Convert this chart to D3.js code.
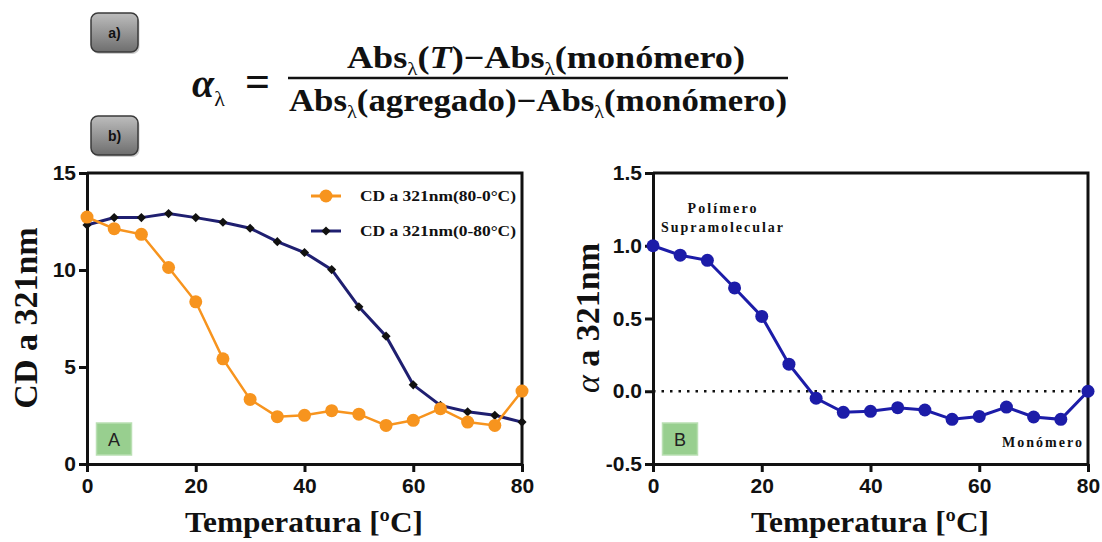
<!doctype html>
<html>
<head>
<meta charset="UTF-8">
<title>CD a 321nm</title>
<script src="https://cdn.jsdelivr.net/npm/d3@7"></script>
<style>
  body { margin: 0; background: #fff; }
  .axis .tick text { font-family: "Liberation Sans", Arial, sans-serif; font-weight: bold; font-size: 21px; fill: #111; }
  .axis path, .axis line { stroke: #111; stroke-width: 3; }
  .serif { font-family: "Liberation Serif", "Times New Roman", serif; font-weight: bold; fill: #111; }
</style>
</head>
<body>
<svg id="fig" width="1102" height="542"></svg>
<script>
// temperatures (°C)
const temps = [0, 5, 10, 15, 20, 25, 30, 35, 40, 45, 50, 55, 60, 65, 70, 75, 80];
// CD at 321 nm, cooling 80-0 °C (orange)
const cdCooling = [12.73, 12.13, 11.84, 10.13, 8.36, 5.42, 3.33, 2.44, 2.51, 2.75, 2.57, 1.99, 2.25, 2.85, 2.16, 1.99, 3.76];
// CD at 321 nm, heating 0-80 °C (navy)
const cdHeating = [12.32, 12.70, 12.70, 12.91, 12.70, 12.46, 12.15, 11.46, 10.90, 10.02, 8.10, 6.59, 4.08, 3.02, 2.69, 2.51, 2.16];
// aggregation fraction alpha at 321 nm
const alphaVals = [1.0, 0.935, 0.90, 0.71, 0.514, 0.186, -0.048, -0.145, -0.138, -0.113, -0.129, -0.193, -0.173, -0.109, -0.177, -0.193, 0.0];

const tempTicks = [0, 20, 40, 60, 80];
const cdTicks = [0, 5, 10, 15];
const alphaTicks = [-0.5, 0.0, 0.5, 1.0, 1.5];
const legendLabels = ["CD a 321nm(80-0°C)", "CD a 321nm(0-80°C)"];

const svg = d3.select("#fig");

// gradient for the a) b) buttons
const defs = svg.append("defs");
const grad = defs.append("linearGradient").attr("id", "btn").attr("x1", 0).attr("y1", 0).attr("x2", 0).attr("y2", 1);
grad.append("stop").attr("offset", "0%").attr("stop-color", "#bdbdbd");
grad.append("stop").attr("offset", "100%").attr("stop-color", "#6e6e6e");

function button(x, y, label) {
  svg.append("rect").attr("x", x + 1.5).attr("y", y + 2).attr("width", 47).attr("height", 39)
    .attr("rx", 7).attr("fill", "#cfcfcf");
  svg.append("rect").attr("x", x).attr("y", y).attr("width", 47).attr("height", 39)
    .attr("rx", 7).attr("fill", "url(#btn)").attr("stroke", "#3a3a3a").attr("stroke-width", 1.5);
  svg.append("text").attr("x", x + 23.5).attr("y", y + 24.5).attr("text-anchor", "middle")
    .style("font-family", "Liberation Sans, Arial, sans-serif").style("font-weight", "bold")
    .style("font-size", "14px").attr("fill", "#111").text(label);
}
button(91, 13, "a)");
button(91, 116, "b)");

// formula
const f = svg.append("g").attr("class", "serif");
const alphaT = f.append("text").attr("x", 192).attr("y", 97).style("font-size", "40px");
alphaT.append("tspan").style("font-style", "italic").text("α");
alphaT.append("tspan").attr("dy", 9).style("font-size", "22px").style("font-weight", "normal").text("λ");
f.append("text").attr("x", 245).attr("y", 96).style("font-size", "44px").text("=");

function fracLine(y, x, w, parts) {
  const t = f.append("text").attr("x", x).attr("y", y).style("font-size", "31px")
    .attr("textLength", w).attr("lengthAdjust", "spacingAndGlyphs");
  parts.forEach(p => {
    const s = t.append("tspan").text(p.t);
    if (p.sub) s.attr("dy", 7).style("font-size", "18px").style("font-weight", "normal");
    if (p.up) s.attr("dy", -7);
    if (p.it) s.style("font-style", "italic");
  });
}
fracLine(68, 347, 398, [
  {t: "Abs"}, {t: "λ", sub: true}, {t: "(", up: true}, {t: "T", it: true}, {t: ")−Abs"},
  {t: "λ", sub: true}, {t: "(monómero)", up: true}
]);
f.append("line").attr("x1", 288).attr("x2", 788).attr("y1", 78).attr("y2", 78)
  .attr("stroke", "#111").attr("stroke-width", 2.5);
fracLine(111, 289, 498, [
  {t: "Abs"}, {t: "λ", sub: true}, {t: "(agregado)−Abs", up: true},
  {t: "λ", sub: true}, {t: "(monómero)", up: true}
]);

// panel drawing
function panel(o) {
  const x = d3.scaleLinear().domain([0, 80]).range([o.left, o.left + 435]);
  const y = d3.scaleLinear().domain(o.yDomain).range([464, 173]);
  const g = svg.append("g");

  // frame top/right
  g.append("path").attr("d", `M${o.left},173H${o.left + 435}V464`)
    .attr("fill", "none").attr("stroke", "#111").attr("stroke-width", 3);

  g.append("g").attr("class", "axis").attr("transform", "translate(0,464)")
    .call(d3.axisBottom(x).tickValues(tempTicks).tickSize(8).tickSizeOuter(0).tickPadding(6));
  g.append("g").attr("class", "axis").attr("transform", `translate(${o.left},0)`)
    .call(d3.axisLeft(y).tickValues(o.yTicks).tickSize(8).tickSizeOuter(0).tickPadding(3)
      .tickFormat(o.fmt));

  // axis titles
  g.append("text").attr("class", "serif").attr("x", o.left + 217).attr("y", 532)
    .attr("text-anchor", "middle").style("font-size", "30px")
    .attr("textLength", 238).attr("lengthAdjust", "spacingAndGlyphs").text("Temperatura [ºC]");
  const yt = g.append("text").attr("class", "serif")
    .attr("transform", `translate(${o.titleX},318) rotate(-90)`)
    .attr("text-anchor", "middle").attr("dy", "0.35em").style("font-size", "34px");
  o.yTitle(yt);

  // panel label box
  g.append("rect").attr("x", o.left + 9.5).attr("y", 423).attr("width", 35).attr("height", 32)
    .attr("fill", "#98cf8f").attr("stroke", "#b9dfb2").attr("stroke-width", 1.5);
  g.append("text").attr("x", o.left + 27).attr("y", 446).attr("text-anchor", "middle")
    .style("font-family", "Liberation Sans, Arial, sans-serif").style("font-size", "18px")
    .attr("fill", "#222").text(o.label);

  return {g, x, y};
}

// panel A
const A = panel({
  left: 87, yDomain: [0, 15], yTicks: cdTicks, fmt: d3.format("d"), titleX: 25, label: "A",
  yTitle: t => t.text("CD a 321nm")
});
const lineA = vals => d3.line().x((d, i) => A.x(temps[i])).y(d => A.y(d))(vals);
A.g.append("path").attr("d", lineA(cdHeating)).attr("fill", "none")
  .attr("stroke", "#1f1f70").attr("stroke-width", 3);
A.g.selectAll(".dia").data(cdHeating).join("path")
  .attr("d", d3.symbol(d3.symbolSquare, 42)())
  .attr("transform", (d, i) => `translate(${A.x(temps[i])},${A.y(d)}) rotate(45)`)
  .attr("fill", "#111");
A.g.append("path").attr("d", lineA(cdCooling)).attr("fill", "none")
  .attr("stroke", "#f7941e").attr("stroke-width", 2.5);
A.g.selectAll(".dot").data(cdCooling).join("circle")
  .attr("cx", (d, i) => A.x(temps[i])).attr("cy", d => A.y(d)).attr("r", 6.5)
  .attr("fill", "#f7941e");

// legend
const leg = A.g.append("g");
legendLabels.forEach((lab, i) => {
  const ly = 196 + i * 35;
  leg.append("line").attr("x1", 311).attr("x2", 341).attr("y1", ly).attr("y2", ly)
    .attr("stroke", i === 0 ? "#f7941e" : "#1f1f70").attr("stroke-width", 3);
  if (i === 0) {
    leg.append("circle").attr("cx", 326).attr("cy", ly).attr("r", 6.5).attr("fill", "#f7941e");
  } else {
    leg.append("path").attr("d", d3.symbol(d3.symbolSquare, 42)())
      .attr("transform", `translate(326,${ly}) rotate(45)`).attr("fill", "#111");
  }
  leg.append("text").attr("class", "serif").attr("x", 360).attr("y", ly + 5)
    .style("font-size", "14px").attr("textLength", 156).attr("lengthAdjust", "spacingAndGlyphs")
    .text(lab);
});

// panel B
const fmtB = d => d3.format(".1f")(d).replace("−", "-");
const B = panel({
  left: 653, yDomain: [-0.5, 1.5], yTicks: alphaTicks, fmt: fmtB, titleX: 587, label: "B",
  yTitle: t => {
    t.append("tspan").style("font-style", "italic").style("font-weight", "normal").text("α");
    t.append("tspan").text(" a 321nm");
  }
});
B.g.append("line").attr("x1", B.x(0)).attr("x2", B.x(80)).attr("y1", B.y(0)).attr("y2", B.y(0))
  .attr("stroke", "#111").attr("stroke-width", 2.5).attr("stroke-dasharray", "2.5,6");
B.g.append("path")
  .attr("d", d3.line().x((d, i) => B.x(temps[i])).y(d => B.y(d))(alphaVals))
  .attr("fill", "none").attr("stroke", "#1c1ca8").attr("stroke-width", 3);
B.g.selectAll(".dot").data(alphaVals).join("circle")
  .attr("cx", (d, i) => B.x(temps[i])).attr("cy", d => B.y(d)).attr("r", 6.5)
  .attr("fill", "#1c1ca8");

const ann = B.g.append("g").attr("class", "serif").style("font-size", "14px").attr("fill", "#333");
ann.append("text").attr("x", 722).attr("y", 213).attr("text-anchor", "middle")
  .attr("textLength", 69).attr("lengthAdjust", "spacing").text("Polímero");
ann.append("text").attr("x", 722).attr("y", 232).attr("text-anchor", "middle")
  .attr("textLength", 122).attr("lengthAdjust", "spacing").text("Supramolecular");
ann.append("text").attr("x", 1042).attr("y", 447).attr("text-anchor", "middle")
  .attr("textLength", 80).attr("lengthAdjust", "spacing").text("Monómero");
</script>
</body>
</html>
